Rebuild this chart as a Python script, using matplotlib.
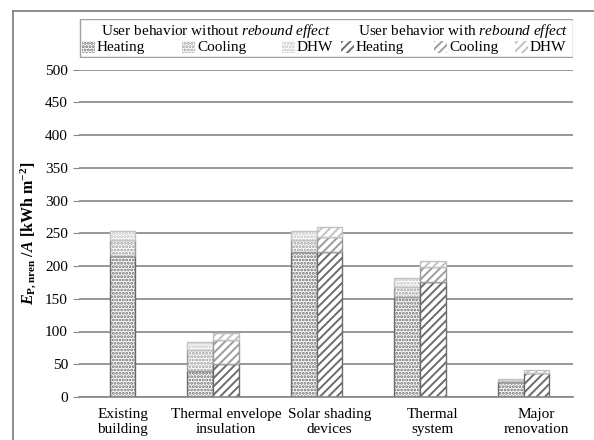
import numpy as np
import matplotlib
matplotlib.use("Agg")
import matplotlib.pyplot as plt
from matplotlib.patches import Rectangle
from matplotlib.lines import Line2D

plt.rcParams['font.family'] = ['Liberation Serif', 'DejaVu Serif']
plt.rcParams['mathtext.fontset'] = 'custom'
plt.rcParams['mathtext.rm'] = 'Liberation Serif'
plt.rcParams['mathtext.it'] = 'Liberation Serif:italic'
plt.rcParams['mathtext.bf'] = 'Liberation Serif:bold'
plt.rcParams['mathtext.bfit'] = 'Liberation Serif:bold:italic'
plt.rcParams['hatch.linewidth'] = 1.4

categories = ['Existing\nbuilding', 'Thermal envelope\ninsulation', 'Solar shading\ndevices',
              'Thermal\nsystem', 'Major\nrenovation']

# without rebound effect
wo_heating = [216, 40, 222, 153, 23]
wo_cooling = [23, 32, 17, 15, 1]
wo_dhw = [14, 12, 14, 14, 3]
# with rebound effect (existing building has none)
w_heating = [0, 51, 221, 175, 36]
w_cooling = [0, 36, 24, 23, 1]
w_dhw = [0, 11, 14, 10, 4]

c_heat, c_cool, c_dhw = '#6c6c6c', '#9c9c9c', '#c2c2c2'
bw = 0.25
dots = '.....'

fig = plt.figure(figsize=(5.94, 4.40), dpi=100)
ax = fig.add_axes([79/594, 1-397/440, (573-79)/594, (397-69.5)/440])

x = np.arange(len(categories))
has_w = np.array(w_heating) > 0
x_wo = np.where(has_w, x - bw, x)
x_w = x

wo_h = np.array(wo_heating)
wo_c = np.array(wo_cooling)
wo_d = np.array(wo_dhw)
ax.bar(x_wo, wo_h, bw, color='white', edgecolor=c_heat, hatch=dots, lw=1.0)
ax.bar(x_wo, wo_c, bw, bottom=wo_h, color='white', edgecolor=c_cool, hatch=dots, lw=1.0)
ax.bar(x_wo, wo_d, bw, bottom=wo_h + wo_c, color='white', edgecolor=c_dhw, hatch=dots, lw=1.0)

w_h = np.array(w_heating)[has_w]
w_c = np.array(w_cooling)[has_w]
w_d = np.array(w_dhw)[has_w]
xw = x_w[has_w]
ax.bar(xw, w_h, bw, color='white', edgecolor=c_heat, hatch='////', lw=1.0)
ax.bar(xw, w_c, bw, bottom=w_h, color='white', edgecolor=c_cool, hatch='////', lw=1.0)
ax.bar(xw, w_d, bw, bottom=w_h + w_c, color='white', edgecolor=c_dhw, hatch='////', lw=1.0)

ax.set_ylim(0, 500)
ax.set_yticks(np.arange(0, 501, 50))
ax.set_xlim(-0.42, 4.353)
ax.set_xticks(x)
ax.set_xticklabels(categories, fontsize=11, linespacing=1.2)
ax.tick_params(axis='x', length=0, pad=8)
ax.tick_params(axis='y', length=4, color='#868686', labelsize=11, pad=4)
ax.yaxis.grid(True, color='#868686', lw=1.2)
ax.set_axisbelow(True)
for s in ['top', 'right', 'left']:
    ax.spines[s].set_visible(False)
ax.spines['bottom'].set_color('#868686')
ax.spines['bottom'].set_linewidth(1.2)
ax.set_ylabel(r'$\mathbfit{E}_{\mathbf{P,nren}}$ /$\mathbfit{A}$ [kWh m$^{\mathbf{-2}}$]',
              fontsize=11.5, fontweight='bold', labelpad=4)

# outer frame (top and left)
fig.add_artist(Line2D([12.5/594, 12.5/594], [0, 1-11/440], color='#7a7a7a', lw=1.2))
fig.add_artist(Line2D([12.5/594, 1], [1-11/440, 1-11/440], color='#7a7a7a', lw=1.2))

# legend drawn by hand
lg = fig.add_axes([79/594, 1-58/440, (573-79)/594, 39/440])
lg.set_xlim(79, 573)
lg.set_ylim(58, 19)
lg.axis('off')
lg.add_patch(Rectangle((79.5, 19.5), 493, 38, fill=False, edgecolor='#a0a0a0', lw=1.0))
lg.text(331, 31, 'User behavior without $\\it{rebound\\ effect}$', fontsize=11,
        va='center', ha='right')
lg.text(569, 31, 'User behavior with $\\it{rebound\\ effect}$', fontsize=11,
        va='center', ha='right')
entries = [
    (82, 'Heating', c_heat, dots),
    (182, 'Cooling', c_cool, dots),
    (282, 'DHW', c_dhw, dots),
    (341, 'Heating', c_heat, '////'),
    (434, 'Cooling', c_cool, '////'),
    (515, 'DHW', c_dhw, '////'),
]
for px, lab, col, h in entries:
    lg.add_patch(Rectangle((px, 41), 13, 12, facecolor='white', edgecolor=col,
                           hatch=h, lw=0))
    lg.text(px + 15, 47.5, lab, fontsize=11, va='center', ha='left')

fig.savefig('out.png', dpi=100)
